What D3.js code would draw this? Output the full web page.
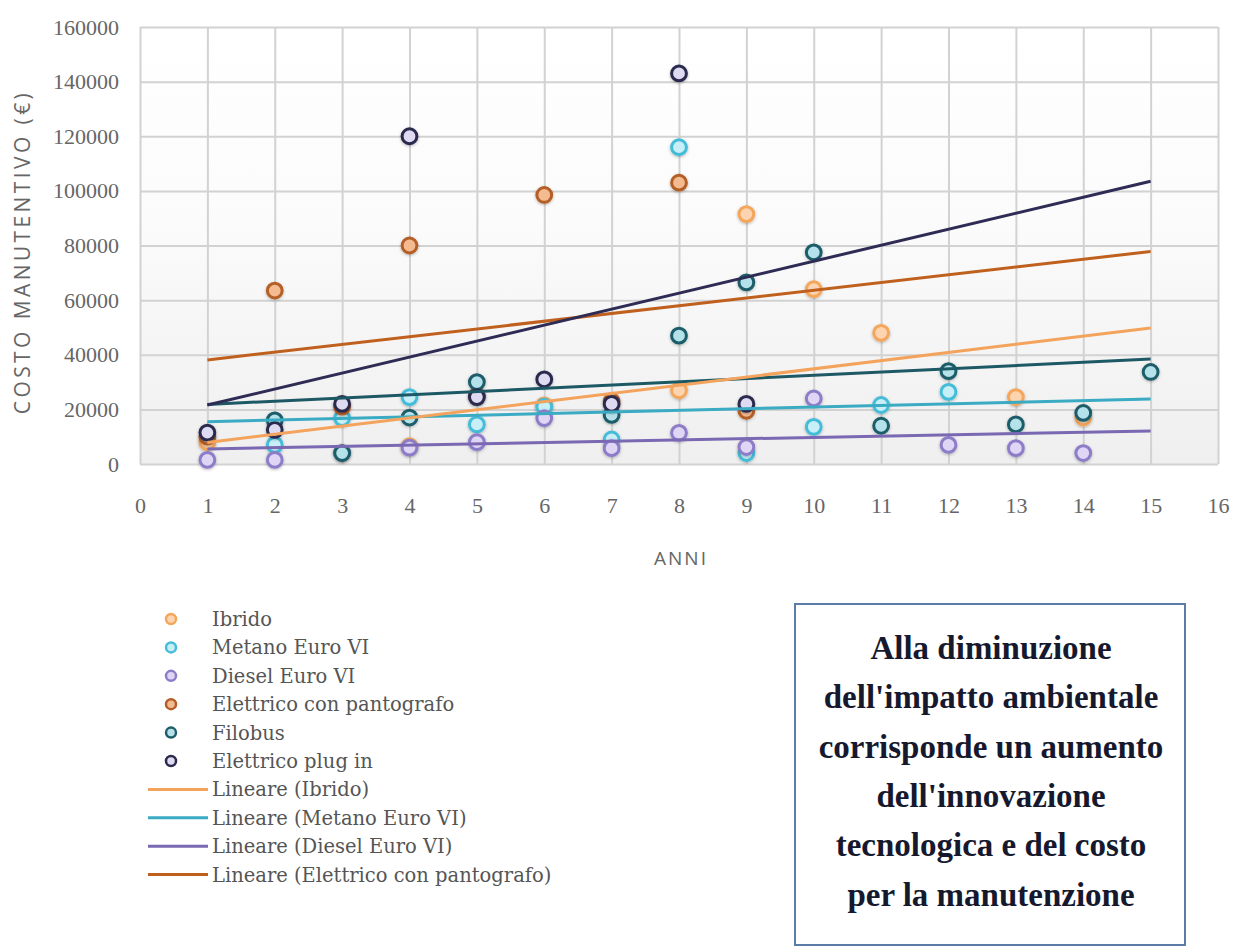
<!DOCTYPE html>
<html>
<head>
<meta charset="utf-8">
<script src="https://cdn.jsdelivr.net/npm/d3@7/dist/d3.min.js"></script>
<style>
  html, body { margin: 0; padding: 0; background: #ffffff; }
  svg { display: block; }
</style>
</head>
<body>
<svg id="chart" width="1233" height="949"></svg>
<script>
// Maintenance cost per year of service, by vehicle type
const seriesNames = ["Ibrido", "Metano Euro VI", "Diesel Euro VI", "Elettrico con pantografo", "Filobus", "Elettrico plug in"];

const ibridoYears = [1, 4, 6, 8, 9, 10, 11, 13, 14];
const ibridoCost  = [8000, 6500, 21500, 27000, 91500, 64000, 48000, 24500, 17000];

const metanoYears = [2, 3, 4, 5, 6, 7, 8, 9, 10, 11, 12];
const metanoCost  = [7000, 16800, 24500, 14500, 21000, 9000, 116000, 4000, 13600, 21600, 26400];

const dieselYears = [1, 2, 3, 4, 5, 6, 7, 8, 9, 10, 12, 13, 14];
const dieselCost  = [1500, 1500, 4000, 6000, 8000, 16800, 5800, 11400, 6200, 24000, 7000, 5800, 4000];

const pantografoYears = [1, 2, 3, 4, 5, 6, 7, 8, 9];
const pantografoCost  = [10000, 63500, 21000, 80000, 25000, 98500, 23000, 103000, 19500];

const filobusYears = [2, 3, 4, 5, 7, 8, 9, 10, 11, 12, 13, 14, 15];
const filobusCost  = [16000, 4000, 17000, 30000, 18000, 47000, 66500, 77500, 14000, 34000, 14500, 18700, 33700];

const plugInYears = [1, 2, 3, 4, 5, 6, 7, 8, 9];
const plugInCost  = [11500, 12500, 22000, 120000, 24500, 31000, 22000, 143000, 22000];

// Linear trend values at the first and last year of the span
const trendNames = ["Lineare (Ibrido)", "Lineare (Metano Euro VI)", "Lineare (Diesel Euro VI)", "Lineare (Elettrico con pantografo)", "Lineare (Filobus)", "Lineare (Elettrico plug in)"];
const trendYears = [1, 15];
const trendStart = [7900, 15500, 5500, 38100, 21800, 21600];
const trendEnd   = [49800, 23800, 12100, 77800, 38400, 103500];

const xTicks = [0, 1, 2, 3, 4, 5, 6, 7, 8, 9, 10, 11, 12, 13, 14, 15, 16];
const yTicks = [0, 20000, 40000, 60000, 80000, 100000, 120000, 140000, 160000];

// the legend box only has room for the first ten entries
const legendCount = 10;

const markerStroke = ["#f4a65c", "#45bcd8", "#8d7dc8", "#b45f28", "#1f5d6b", "#2c2a4e"];
const markerFill   = ["#fcd5b0", "#c8eef7", "#ded6f4", "#f5bb90", "#b4e1ea", "#dedaf1"];
const trendColor   = ["#f3a35c", "#3aabc3", "#7a68b2", "#c0601e", "#1d5865", "#2e2c54"];

const series = [
  { years: ibridoYears, cost: ibridoCost },
  { years: metanoYears, cost: metanoCost },
  { years: dieselYears, cost: dieselCost },
  { years: pantografoYears, cost: pantografoCost },
  { years: filobusYears, cost: filobusCost },
  { years: plugInYears, cost: plugInCost }
];

const svg = d3.select("#chart");
const plot = { left: 140, right: 1218, top: 27, bottom: 464 };

const x = d3.scaleLinear().domain([0, 16]).range([plot.left, plot.right]);
const y = d3.scaleLinear().domain([0, 160000]).range([plot.bottom, plot.top]);

const defs = svg.append("defs");
const grad = defs.append("linearGradient").attr("id", "plotBg")
  .attr("x1", 0).attr("y1", 0).attr("x2", 0).attr("y2", 1);
grad.append("stop").attr("offset", "0%").attr("stop-color", "#ffffff");
grad.append("stop").attr("offset", "45%").attr("stop-color", "#fbfbfb");
grad.append("stop").attr("offset", "100%").attr("stop-color", "#efefef");

const shadow = defs.append("filter").attr("id", "markerShadow")
  .attr("x", "-60%").attr("y", "-60%").attr("width", "220%").attr("height", "220%");
shadow.append("feDropShadow").attr("dx", 0).attr("dy", 1).attr("stdDeviation", 1.6)
  .attr("flood-color", "#000").attr("flood-opacity", 0.28);

// plot background
svg.append("rect")
  .attr("x", plot.left).attr("y", plot.top)
  .attr("width", plot.right - plot.left).attr("height", plot.bottom - plot.top)
  .attr("fill", "url(#plotBg)");

// gridlines drawn from the axes
svg.append("g")
  .attr("transform", `translate(0,${plot.bottom})`)
  .call(d3.axisBottom(x).tickValues(xTicks).tickSize(-(plot.bottom - plot.top)).tickFormat(""))
  .call(g => g.select(".domain").remove())
  .call(g => g.selectAll("line").attr("stroke", "#d2d2d2").attr("stroke-width", 2));

svg.append("g")
  .attr("transform", `translate(${plot.left},0)`)
  .call(d3.axisLeft(y).tickValues(yTicks).tickSize(-(plot.right - plot.left)).tickFormat(""))
  .call(g => g.select(".domain").remove())
  .call(g => g.selectAll("line").attr("stroke", "#d2d2d2").attr("stroke-width", 2));

// tick labels
const tickFont = "'Liberation Serif', 'DejaVu Serif', serif";
svg.append("g")
  .attr("transform", `translate(0,${plot.bottom})`)
  .call(d3.axisBottom(x).tickValues(xTicks).tickSize(0).tickPadding(33).tickFormat(d3.format("d")))
  .call(g => g.select(".domain").remove())
  .call(g => g.selectAll("text").attr("fill", "#666").attr("font-family", tickFont).attr("font-size", 22));

svg.append("g")
  .attr("transform", `translate(${plot.left},0)`)
  .call(d3.axisLeft(y).tickValues(yTicks).tickSize(0).tickPadding(21).tickFormat(d3.format("d")))
  .call(g => g.select(".domain").remove())
  .call(g => g.selectAll("text").attr("fill", "#666").attr("font-family", tickFont).attr("font-size", 22));

// axis titles
const titleFont = "'Open Sans', 'Noto Sans', sans-serif";
svg.append("text")
  .attr("x", x(8) + 2).attr("y", 565)
  .attr("text-anchor", "middle")
  .attr("font-family", titleFont).attr("font-size", 19).attr("fill", "#666")
  .attr("letter-spacing", 2)
  .text("ANNI");

svg.append("text")
  .attr("transform", `translate(30,252) rotate(-90)`)
  .attr("text-anchor", "middle")
  .attr("font-family", titleFont).attr("font-size", 21).attr("fill", "#666")
  .attr("letter-spacing", 3.4)
  .text("COSTO MANUTENTIVO (€)");

// scatter points
const pts = svg.append("g");
series.forEach((s, i) => {
  pts.append("g")
    .selectAll("circle")
    .data(s.years.map((yr, k) => ({ yr, c: s.cost[k] })))
    .join("circle")
    .attr("cx", d => x(d.yr))
    .attr("cy", d => y(d.c))
    .attr("r", 7.4)
    .attr("fill", markerFill[i])
    .attr("stroke", markerStroke[i])
    .attr("stroke-width", 3)
    .attr("filter", "url(#markerShadow)");
});

// linear trend lines
const line = d3.line().x(d => x(d[0])).y(d => y(d[1]));
const trendOrder = [4, 1, 2, 0, 3, 5];
trendOrder.forEach(i => {
  svg.append("path")
    .datum([[trendYears[0], trendStart[i]], [trendYears[1], trendEnd[i]]])
    .attr("d", line)
    .attr("fill", "none")
    .attr("stroke", trendColor[i])
    .attr("stroke-width", 3);
});

// legend
const legendFont = "'DejaVu Serif', 'Liberation Serif', serif";
const legendItems = seriesNames.map((n, i) => ({ type: "marker", name: n, i }))
  .concat(trendNames.map((n, i) => ({ type: "line", name: n, i })))
  .slice(0, legendCount);
const legend = svg.append("g");
legendItems.forEach((item, k) => {
  const cy = 619 + k * 28.4;
  if (item.type === "marker") {
    legend.append("circle")
      .attr("cx", 171).attr("cy", cy).attr("r", 5)
      .attr("fill", markerFill[item.i]).attr("stroke", markerStroke[item.i]).attr("stroke-width", 2.5);
  } else {
    legend.append("line")
      .attr("x1", 148).attr("x2", 208).attr("y1", cy).attr("y2", cy)
      .attr("stroke", trendColor[item.i]).attr("stroke-width", 3);
  }
  legend.append("text")
    .attr("x", 212).attr("y", cy + 7)
    .attr("font-family", legendFont).attr("font-size", 19.5).attr("fill", "#555")
    .text(item.name);
});

// note box
const noteLines = ["Alla diminuzione", "dell'impatto ambientale", "corrisponde un aumento", "dell'innovazione", "tecnologica e del costo", "per la manutenzione"];
svg.append("rect")
  .attr("x", 795).attr("y", 604).attr("width", 390).attr("height", 341)
  .attr("fill", "#ffffff").attr("stroke", "#5a7ca6").attr("stroke-width", 2);
svg.append("g").selectAll("text")
  .data(noteLines)
  .join("text")
  .attr("x", 991)
  .attr("y", (d, k) => 659 + k * 49.3)
  .attr("text-anchor", "middle")
  .attr("font-family", "'Liberation Serif', 'DejaVu Serif', serif")
  .attr("font-weight", "bold")
  .attr("font-size", 33)
  .attr("fill", "#16192e")
  .text(d => d);
</script>
</body>
</html>
